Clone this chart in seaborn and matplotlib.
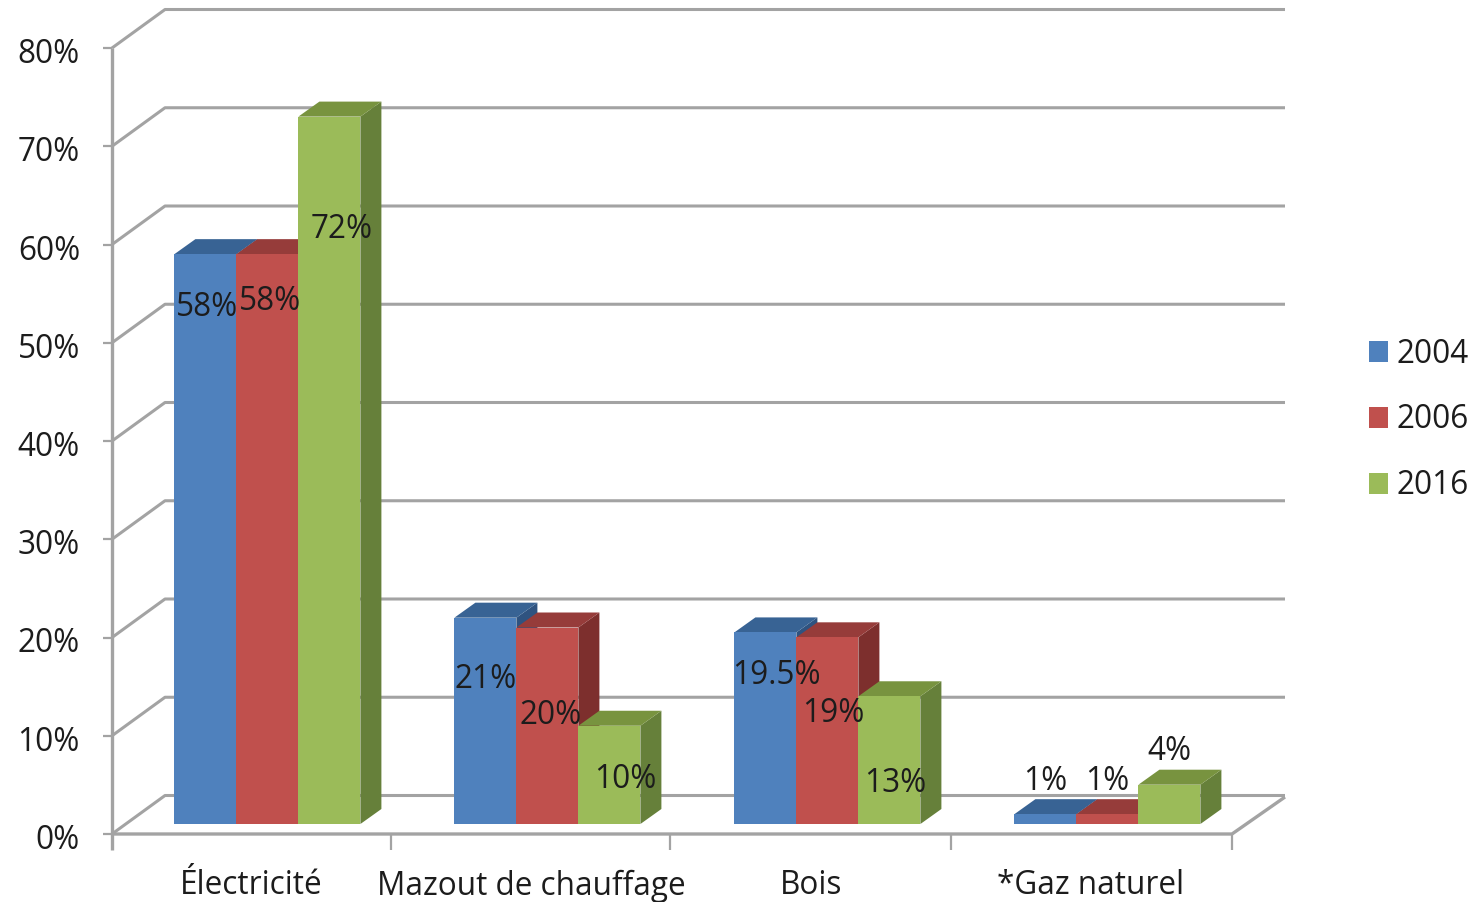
import matplotlib
matplotlib.use("Agg")
import matplotlib.pyplot as plt
from matplotlib.patches import Polygon
from matplotlib.transforms import Affine2D
import pandas as pd
import seaborn as sns

categories = ["Électricité", "Mazout de chauffage", "Bois", "*Gaz naturel"]
years = ["2004", "2006", "2016"]
values_2004 = [58, 21, 19.5, 1]
values_2006 = [58, 20, 19, 1]
values_2016 = [72, 10, 13, 4]
value_labels = [
    ["58%", "21%", "19.5%", "1%"],
    ["58%", "20%", "19%", "1%"],
    ["72%", "10%", "13%", "4%"],
]
y_ticks = [0, 10, 20, 30, 40, 50, 60, 70, 80]

FRONT = ["#4F81BD", "#C0504D", "#9BBB59"]
TOP = ["#386394", "#963C3A", "#78933F"]
SIDE = ["#2F5380", "#7D2F2D", "#66803A"]
GRID = "#A3A3A3"
TEXT = "#1C1C1C"

W, H = 1480, 902
SCALE = 9.825          # pixels per percent
BASE_Y = 824           # bar foot
BAR_DX, BAR_DY = 21, 15
FONT = 22.7

# label centres in image pixels, same order as value_labels
LABEL_POS = [
    [(207, 307), (486, 679), (776, 676), (1045, 781)],
    [(270, 302), (551, 716), (833, 714), (1107, 781)],
    [(342, 229), (625, 779), (895, 784), (1169, 751)],
]

sns.set_style("white")
plt.rcParams["font.family"] = ["Open Sans", "DejaVu Sans"]

df = pd.DataFrame({
    "category": categories * 3,
    "year": [y for y in years for _ in categories],
    "value": values_2004 + values_2006 + values_2016,
})

fig = plt.figure(figsize=(W / 100, H / 100), dpi=100)
ax = fig.add_axes([0, 0, 1, 1])

sns.barplot(
    data=df, x="category", y="value", hue="year", order=categories,
    hue_order=years, palette=FRONT, saturation=1, width=186 / 280, gap=0,
    linewidth=0, errorbar=None, ax=ax, zorder=3,
)

# map categories and percents on to the image pixels
ax.set_xlim(-267.4 / 280, (W - 267.4) / 280)
ax.set_ylim((BASE_Y - H) / SCALE, BASE_Y / SCALE)
ax.set_axis_off()

pix = Affine2D().scale(1, -1).translate(0, H)


def line(xs, ys, lw=2.2, z=1):
    ax.plot(xs, ys, color=GRID, lw=lw, transform=pix, zorder=z,
            solid_capstyle="butt", clip_on=False)


# walls and gridlines
for tick in y_ticks:
    front_y = 834 - tick * SCALE
    line([112, 165, 1285], [front_y, front_y - 38.5, front_y - 38.5])
    line([103, 112], [front_y, front_y], lw=1.6)
    ax.text(80, front_y + 6.5, f"{tick}%", transform=pix, ha="right",
            va="center", fontsize=FONT, color=TEXT)

line([112, 112], [48, 850], lw=2.4, z=2)
line([112, 1232, 1285], [834, 834, 797], lw=2.4, z=2)
for tick_x in [391, 670, 951, 1232]:
    line([tick_x, tick_x], [834, 850], lw=1.6, z=2)

# depth faces, taken from the bars seaborn drew
for s, container in enumerate(ax.containers):
    for bar in container:
        (x0, y1), (x1, y0) = pix.inverted().transform(
            ax.transData.transform([(bar.get_x(), bar.get_height()),
                                    (bar.get_x() + bar.get_width(), 0)]))
        top = [(x0, y1), (x1, y1), (x1 + BAR_DX, y1 - BAR_DY), (x0 + BAR_DX, y1 - BAR_DY)]
        side = [(x1, y1), (x1 + BAR_DX, y1 - BAR_DY), (x1 + BAR_DX, y0 - BAR_DY), (x1, y0)]
        ax.add_patch(Polygon(side, color=SIDE[s], lw=0, transform=pix, zorder=2 + s * 0.1))
        ax.add_patch(Polygon(top, color=TOP[s], lw=0, transform=pix, zorder=2.05 + s * 0.1))

for row, texts in zip(LABEL_POS, value_labels):
    for (x, y), label in zip(row, texts):
        ax.text(x, y, label, transform=pix, ha="center", va="center",
                fontsize=FONT, color=TEXT, zorder=5)

for i, name in enumerate(categories):
    ax.text(251 + 280 * i, 886, name, transform=pix, ha="center", va="center",
            fontsize=FONT, color=TEXT)

handles, labels = ax.get_legend_handles_labels()
ax.legend(
    handles, labels, loc="center left", bbox_to_anchor=(1369 / W, 1 - 420 / H),
    frameon=False, fontsize=FONT, handlelength=0.6, handleheight=0.63,
    handletextpad=0.28, labelspacing=1.04, borderpad=0, borderaxespad=0,
    labelcolor=TEXT,
)

fig.savefig("out.png", dpi=100)
